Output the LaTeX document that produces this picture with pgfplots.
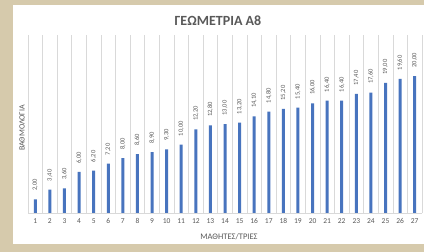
\documentclass[border=0pt]{standalone}
\usepackage{pgfplots}
\pgfplotsset{compat=1.18}
\usepackage{fontspec}
\setmainfont{Carlito}
\definecolor{bg}{RGB}{214,202,172}
\definecolor{barblue}{RGB}{72,116,190}
\definecolor{txt}{RGB}{89,89,89}
\definecolor{grd}{RGB}{217,217,217}
\begin{document}
\begin{tikzpicture}
\useasboundingbox (0pt,0pt) rectangle (424pt,252pt);
\fill[bg] (0pt,0pt) rectangle (424pt,252pt);
\fill[white] (13pt,8pt) rectangle (424pt,247pt);
\node[font=\bfseries\fontsize{14}{16}\selectfont, text=txt] at (218pt,231pt) {ΓΕΩΜΕΤΡΙΑ Α8};
\node[font=\fontsize{8}{9}\selectfont, text=txt, rotate=90] at (22pt,124pt) {ΒΑΘΜΟΛΟΓΙΑ};
\node[font=\fontsize{8.5}{9}\selectfont, text=txt] at (229pt,15pt) {ΜΑΘΗΤΕΣ/ΤΡΙΕΣ};
\begin{axis}[
  at={(28pt,39pt)}, anchor=south west, scale only axis,
  width=394pt, height=178pt,
  xmin=0.5, xmax=27.5, ymin=0, ymax=26,
  xtick={1,...,27}, minor xtick={0.5,1.5,...,27.5},
  xminorgrids=true, minor grid style={grd, line width=0.6pt},
  major tick length=0pt, minor tick length=0pt,
  ytick=\empty,
  separate axis lines,
  axis x line*=bottom, axis y line*=left,
  x axis line style={grd, line width=0.6pt, -},
  y axis line style={draw=none},
  xticklabel style={font=\fontsize{7.5}{8}\selectfont, text=txt, yshift=-2pt},
  /pgf/number format/assume math mode=true,
  ybar, bar width=3pt,
  nodes near coords,
  nodes near coords style={rotate=90, anchor=west, font=\fontsize{6.5}{7}\selectfont, text=txt, xshift=5pt,
    /pgf/number format/fixed, /pgf/number format/fixed zerofill, /pgf/number format/precision=2, /pgf/number format/use comma},
  clip=false,
]
\addplot[fill=barblue, draw=none] coordinates {
(1,2.00) (2,3.40) (3,3.60) (4,6.00) (5,6.20) (6,7.20) (7,8.00) (8,8.60) (9,8.90)
(10,9.30) (11,10.00) (12,12.20) (13,12.80) (14,13.00) (15,13.20) (16,14.10) (17,14.80)
(18,15.20) (19,15.40) (20,16.00) (21,16.40) (22,16.40) (23,17.40) (24,17.60) (25,19.00)
(26,19.60) (27,20.00)};
\end{axis}
\end{tikzpicture}
\end{document}
